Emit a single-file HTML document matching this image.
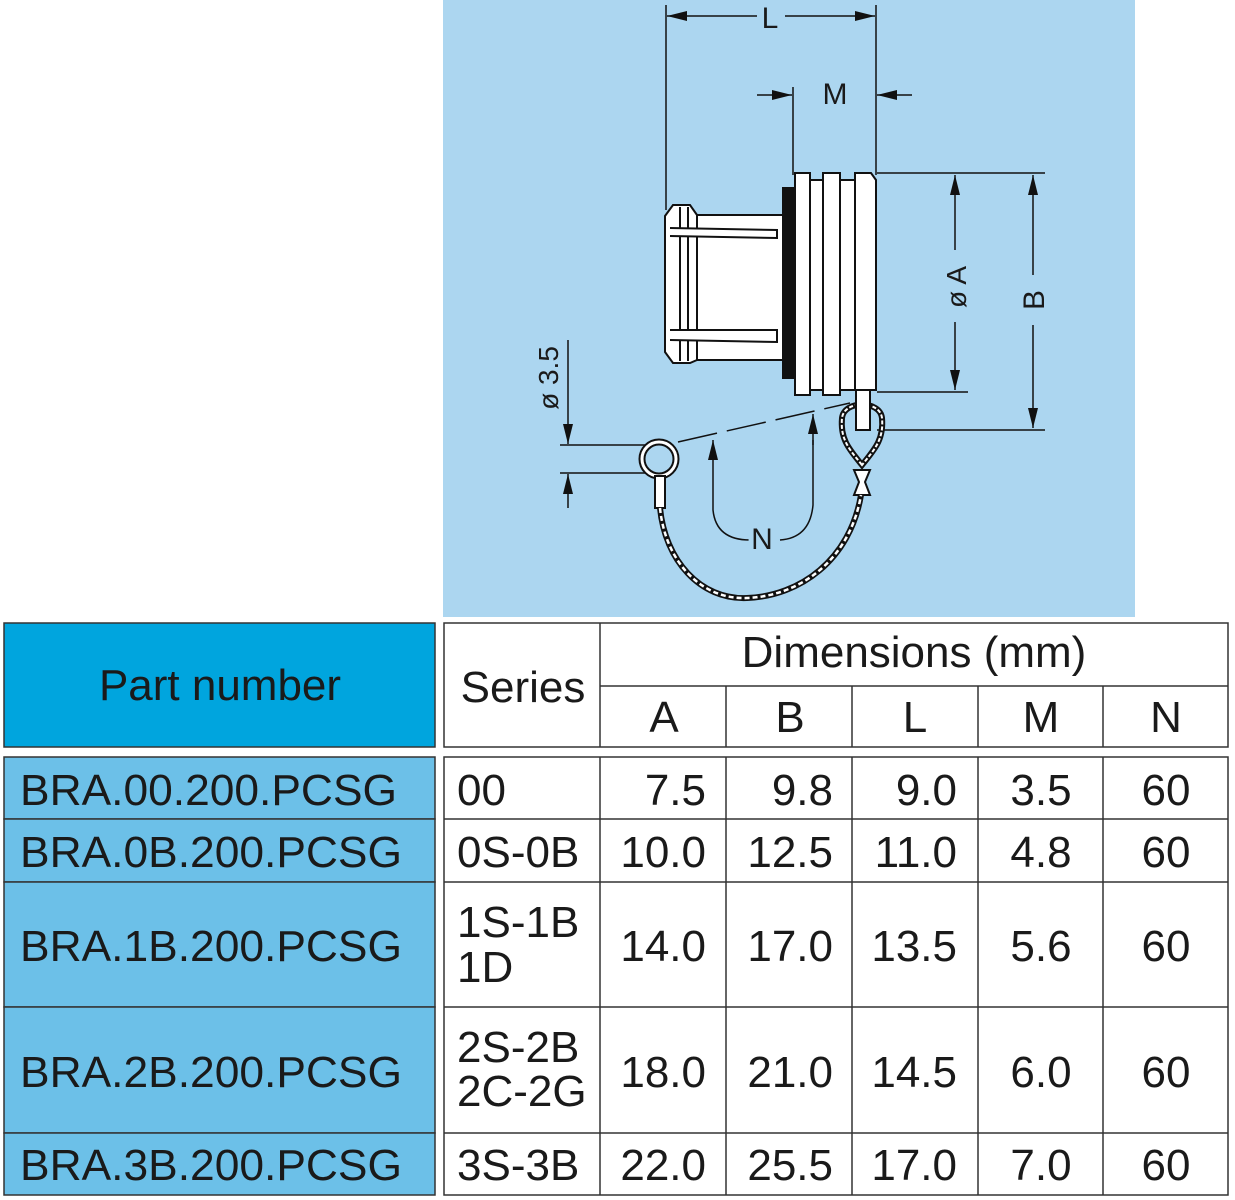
<!DOCTYPE html>
<html><head><meta charset="utf-8"><style>
html,body{margin:0;padding:0;background:#fff;}
svg{display:block;}
text{font-family:"Liberation Sans",Arial,sans-serif;fill:#1a1a1a;}
</style></head><body>
<svg width="1235" height="1200" viewBox="0 0 1235 1200" xmlns="http://www.w3.org/2000/svg">
<defs>
<marker id="ar" markerWidth="20" markerHeight="10" refX="20" refY="5" orient="auto" markerUnits="userSpaceOnUse"><path d="M0,0 L20,5 L0,10 z" fill="#111"/></marker>
</defs>
<rect x="443" y="0" width="692" height="617" fill="#acd6f0"/>
<g stroke="#111" stroke-width="1.5" fill="none">
<line x1="666" y1="5" x2="666" y2="210"/>
<line x1="876" y1="5" x2="876" y2="175"/>
<line x1="757" y1="16" x2="667" y2="16" marker-end="url(#ar)"/>
<line x1="785" y1="16" x2="875" y2="16" marker-end="url(#ar)"/>
<line x1="793" y1="87" x2="793" y2="175"/>
<line x1="757" y1="95" x2="792" y2="95" marker-end="url(#ar)"/>
<line x1="912" y1="95" x2="877" y2="95" marker-end="url(#ar)"/>
<line x1="877" y1="173" x2="968" y2="173"/>
<line x1="877" y1="392" x2="968" y2="392"/>
<line x1="955" y1="250" x2="955" y2="175" marker-end="url(#ar)"/>
<line x1="955" y1="322" x2="955" y2="390" marker-end="url(#ar)"/>
<line x1="968" y1="173" x2="1045" y2="173"/>
<line x1="877" y1="430" x2="1045" y2="430"/>
<line x1="1033" y1="275" x2="1033" y2="175" marker-end="url(#ar)"/>
<line x1="1033" y1="325" x2="1033" y2="428" marker-end="url(#ar)"/>
<line x1="560" y1="445" x2="645" y2="445"/>
<line x1="560" y1="473" x2="645" y2="473"/>
<line x1="568" y1="340" x2="568" y2="444" marker-end="url(#ar)"/>
<line x1="568" y1="508" x2="568" y2="474" marker-end="url(#ar)"/>
<line x1="678" y1="442" x2="850" y2="403" stroke-dasharray="40,10"/>
<path d="M713,470 L713,510 Q716,540 750,540" />
<line x1="713" y1="470" x2="713" y2="440" marker-end="url(#ar)"/>
<path d="M813,440 L813,505 Q810,538 780,540" />
<line x1="813" y1="445" x2="813" y2="414" marker-end="url(#ar)"/>
</g>
<g stroke="#111" stroke-width="2" fill="#fff">
<rect x="697" y="215" width="86" height="145"/>
<path d="M673,205 L690,205 L697,215 L697,360 L690,363 L673,363 L665,352 L665,216 Z"/>
<line x1="680" y1="207" x2="680" y2="361"/>
<line x1="688" y1="207" x2="688" y2="361"/>
<path d="M670,228 L777,230 L777,238 L670,236" />
<path d="M670,330 L777,330 L777,342 L670,340" />
<rect x="783" y="188" width="12" height="190" fill="#111"/>
<rect x="795" y="173" width="15" height="222"/>
<rect x="810" y="180" width="13" height="210"/>
<rect x="823" y="173" width="17" height="222"/>
<rect x="840" y="180" width="15" height="210"/>
<path d="M855,173 L871,173 L876,180 L876,390 L855,390 Z"/>
<path d="M862,465 C850,450 840,440 842,418 C844,400 880,400 882,418 C884,440 874,450 862,465 Z" fill="none" stroke-width="6"/>
<path d="M862,465 C850,450 840,440 842,418 C844,400 880,400 882,418 C884,440 874,450 862,465 Z" fill="none" stroke="#fff" stroke-width="2" stroke-dasharray="4,2"/>
<rect x="856" y="390" width="14" height="40"/>
<path d="M854,470 L870,470 L865,482 L870,495 L854,495 L859,482 Z"/>
<circle cx="659" cy="459" r="17" fill="none" stroke-width="7"/>
<circle cx="659" cy="459" r="17" fill="none" stroke="#fff" stroke-width="3"/>
<rect x="655" y="476" width="10" height="32"/>
</g>
<path d="M660,508 C665,560 700,600 747,598 C800,596 850,560 861,495" fill="none" stroke="#111" stroke-width="6"/>
<path d="M660,508 C665,560 700,600 747,598 C800,596 850,560 861,495" fill="none" stroke="#fff" stroke-width="2.5" stroke-dasharray="5,3"/>
<g font-size="30">
<text x="770" y="28" text-anchor="middle" style="paint-order:stroke" stroke="#acd6f0" stroke-width="10">L</text>
<text x="835" y="104" text-anchor="middle">M</text>
<text x="762" y="549" text-anchor="middle" style="paint-order:stroke" stroke="#acd6f0" stroke-width="10">N</text>
<text transform="translate(966,287) rotate(-90)" text-anchor="middle" font-size="28" style="paint-order:stroke" stroke="#acd6f0" stroke-width="10">ø A</text>
<text transform="translate(1044,300) rotate(-90)" text-anchor="middle" style="paint-order:stroke" stroke="#acd6f0" stroke-width="10">B</text>
<text transform="translate(558,378) rotate(-90)" text-anchor="middle" font-size="28">ø 3.5</text>
</g>
<rect x="4" y="623" width="431" height="124" fill="#00a5de" stroke="#333" stroke-width="1.5"/>
<g fill="#6cc0e8" stroke="#333" stroke-width="1.5">
<rect x="4" y="757" width="431" height="62"/>
<rect x="4" y="819" width="431" height="63"/>
<rect x="4" y="882" width="431" height="125"/>
<rect x="4" y="1007" width="431" height="126"/>
<rect x="4" y="1133" width="431" height="62"/>
</g>
<g stroke="#333" stroke-width="1.5" fill="none">
<rect x="444" y="623" width="784" height="124" fill="#fff"/>
<line x1="600" y1="623" x2="600" y2="747"/>
<line x1="600" y1="686" x2="1228" y2="686"/>
<line x1="726" y1="686" x2="726" y2="747"/>
<line x1="852" y1="686" x2="852" y2="747"/>
<line x1="978" y1="686" x2="978" y2="747"/>
<line x1="1103" y1="686" x2="1103" y2="747"/>
<rect x="444" y="757" width="784" height="438" fill="#fff"/>
<line x1="444" y1="819" x2="1228" y2="819"/>
<line x1="444" y1="882" x2="1228" y2="882"/>
<line x1="444" y1="1007" x2="1228" y2="1007"/>
<line x1="444" y1="1133" x2="1228" y2="1133"/>
<line x1="600" y1="757" x2="600" y2="1195"/>
<line x1="726" y1="757" x2="726" y2="1195"/>
<line x1="852" y1="757" x2="852" y2="1195"/>
<line x1="978" y1="757" x2="978" y2="1195"/>
<line x1="1103" y1="757" x2="1103" y2="1195"/>
</g>
<g font-size="44">
<text x="220" y="700" text-anchor="middle">Part number</text>
<text x="523" y="702" text-anchor="middle">Series</text>
<text x="914" y="667" text-anchor="middle">Dimensions (mm)</text>
<text x="664" y="732" text-anchor="middle">A</text>
<text x="790" y="732" text-anchor="middle">B</text>
<text x="915" y="732" text-anchor="middle">L</text>
<text x="1041" y="732" text-anchor="middle">M</text>
<text x="1166" y="732" text-anchor="middle">N</text>

<text x="20" y="805" textLength="377" lengthAdjust="spacingAndGlyphs">BRA.00.200.PCSG</text>
<text x="20" y="867" textLength="382" lengthAdjust="spacingAndGlyphs">BRA.0B.200.PCSG</text>
<text x="20" y="961" textLength="382" lengthAdjust="spacingAndGlyphs">BRA.1B.200.PCSG</text>
<text x="20" y="1087" textLength="382" lengthAdjust="spacingAndGlyphs">BRA.2B.200.PCSG</text>
<text x="20" y="1180" textLength="382" lengthAdjust="spacingAndGlyphs">BRA.3B.200.PCSG</text>

<text x="457" y="805">00</text>
<text x="457" y="867">0S-0B</text>
<text x="457" y="937">1S-1B</text>
<text x="457" y="982">1D</text>
<text x="457" y="1062">2S-2B</text>
<text x="457" y="1106">2C-2G</text>
<text x="457" y="1180">3S-3B</text>
<g text-anchor="end">
<text x="706" y="805">7.5</text>
<text x="833" y="805">9.8</text>
<text x="957" y="805">9.0</text>
<text x="706" y="867">10.0</text>
<text x="833" y="867">12.5</text>
<text x="957" y="867">11.0</text>
<text x="706" y="961">14.0</text>
<text x="833" y="961">17.0</text>
<text x="957" y="961">13.5</text>
<text x="706" y="1087">18.0</text>
<text x="833" y="1087">21.0</text>
<text x="957" y="1087">14.5</text>
<text x="706" y="1180">22.0</text>
<text x="833" y="1180">25.5</text>
<text x="957" y="1180">17.0</text>
</g>
<g text-anchor="middle">
<text x="1041" y="805">3.5</text>
<text x="1041" y="867">4.8</text>
<text x="1041" y="961">5.6</text>
<text x="1041" y="1087">6.0</text>
<text x="1041" y="1180">7.0</text>
<text x="1166" y="805">60</text>
<text x="1166" y="867">60</text>
<text x="1166" y="961">60</text>
<text x="1166" y="1087">60</text>
<text x="1166" y="1180">60</text>
</g>
</g>
</svg>
</body></html>
